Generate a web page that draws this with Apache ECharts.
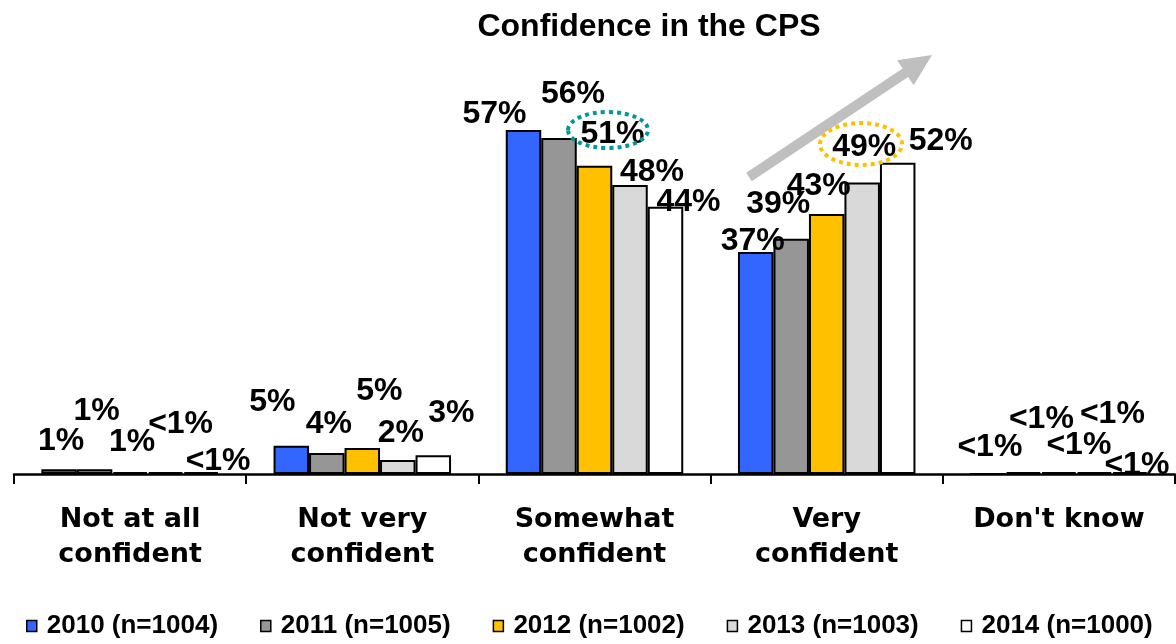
<!DOCTYPE html>
<html>
<head>
<meta charset="utf-8">
<title>Confidence in the CPS</title>
<script src="https://cdn.jsdelivr.net/npm/echarts@6/dist/echarts.min.js"></script>
<style>
    html, body { margin: 0; padding: 0; background: #fff; }
    #chart { width: 1176px; height: 644px; }
</style>
</head>
<body>
<div id="chart"></div>
<script>
// 分类
var categories = ['Not at all\nconfident', 'Not very\nconfident', 'Somewhat\nconfident', 'Very\nconfident', "Don't know"];
var seriesNames = ['2010 (n=1004)', '2011 (n=1005)', '2012 (n=1002)', '2013 (n=1003)', '2014 (n=1000)'];

// 数值 (%)
var values2010 = [0.8, 4.7, 57, 36.8, 0];
var values2011 = [0.8, 3.5, 55.7, 39, 0.3];
var values2012 = [0.3, 4.3, 51.1, 43.1, 0.3];
var values2013 = [0.3, 2.3, 47.9, 48.3, 0.3];
var values2014 = [0.3, 3.1, 44.3, 51.6, 0.3];

// 标签文字
var labels2010 = ['1%', '5%', '57%', '37%', '<1%'];
var labels2011 = ['1%', '4%', '56%', '39%', '<1%'];
var labels2012 = ['1%', '5%', '51%', '43%', '<1%'];
var labels2013 = ['<1%', '2%', '48%', '49%', '<1%'];
var labels2014 = ['<1%', '3%', '44%', '52%', '<1%'];

var allValues = [values2010, values2011, values2012, values2013, values2014];
var allLabels = [labels2010, labels2011, labels2012, labels2013, labels2014];
var colors = ['#3366ff', '#969696', '#ffc000', '#d9d9d9', '#ffffff'];

// 标签偏移（原图标签是手动摆放的）
var labelOffsets = [
    [[2, -28], [-19, -43], [-29, -16], [-3, -11], [2, -26]],
    [[2, -58], [2, -29], [14, -44], [-13, -35], [18, -53]],
    [[2, -30], [17, -57], [18, -32], [-8, -28], [20, -27]],
    [[15, -48], [3, -27], [22, -13], [2, -35], [18, -58]],
    [[17, -11], [18, -42], [23, -5], [43, -22], [7, -7]]
];

var seriesData = [];
for (var i = 0; i < seriesNames.length; i++) {
    var data = [];
    for (var j = 0; j < categories.length; j++) {
        data.push({
            value: allValues[i][j],
            label: {
                formatter: allLabels[i][j],
                offset: labelOffsets[i][j]
            }
        });
    }
    seriesData.push({
        name: seriesNames[i],
        type: 'bar',
        barWidth: 35.5,
        barGap: '0%',
        data: data,
        itemStyle: {
            color: colors[i],
            borderColor: '#000',
            borderWidth: 2
        },
        label: {
            show: true,
            position: 'top',
            distance: 0,
            verticalAlign: 'middle',
            color: '#000',
            fontFamily: 'Liberation Sans, Arial, sans-serif',
            fontWeight: 'bold',
            fontSize: 32
        }
    });
}

// 箭头多边形
function arrowPoints(x1, y1, x2, y2, shaft, head, headLen) {
    var dx = x2 - x1, dy = y2 - y1;
    var len = Math.sqrt(dx * dx + dy * dy);
    var ux = dx / len, uy = dy / len;
    var nx = -uy, ny = ux;
    var bx = x2 - ux * headLen, by = y2 - uy * headLen;
    return [
        [x1 + nx * shaft, y1 + ny * shaft],
        [bx + nx * shaft, by + ny * shaft],
        [bx + nx * head, by + ny * head],
        [x2, y2],
        [bx - nx * head, by - ny * head],
        [bx - nx * shaft, by - ny * shaft],
        [x1 - nx * shaft, y1 - ny * shaft]
    ];
}

var myChart = echarts.init(document.getElementById('chart'));
var option = {
    animation: false,
    title: {
        text: 'Confidence in the CPS',
        left: 644,
        top: 6,
        textAlign: 'center',
        textStyle: {
            color: '#000',
            fontFamily: 'Liberation Sans, Arial, sans-serif',
            fontWeight: 'bold',
            fontSize: 32
        }
    },
    legend: {
        data: seriesNames,
        left: 26,
        top: 613,
        padding: 0,
        itemGap: 42,
        itemWidth: 10,
        itemHeight: 11,
        icon: 'rect',
        itemStyle: {
            borderColor: '#000',
            borderWidth: 1.5
        },
        textStyle: {
            color: '#000',
            fontFamily: 'Liberation Sans, Arial, sans-serif',
            fontWeight: 'bold',
            fontSize: 26,
            padding: [0, 0, 0, 5]
        }
    },
    grid: {
        left: 14,
        right: 1,
        top: 112,
        bottom: 170,
        containLabel: false,
        outerBoundsMode: 'none'
    },
    xAxis: {
        type: 'category',
        data: categories,
        axisLine: {
            lineStyle: { color: '#000', width: 2.5 }
        },
        axisTick: {
            show: true,
            interval: 0,
            length: 10,
            lineStyle: { color: '#000', width: 2 }
        },
        axisLabel: {
            interval: 0,
            margin: 28,
            color: '#000',
            fontFamily: 'DejaVu Sans, sans-serif',
            fontWeight: 'bold',
            fontSize: 27,
            lineHeight: 35
        },
        splitLine: { show: false }
    },
    yAxis: {
        type: 'value',
        min: 0,
        max: 60,
        show: false,
        splitLine: { show: false }
    },
    series: seriesData,
    graphic: [
        {
            // 灰色上升箭头
            type: 'polygon',
            shape: { points: arrowPoints(749, 177, 932, 55, 5, 15, 32) },
            style: { fill: '#bfbfbf' },
            z: 1
        },
        {
            // 51% 圈
            type: 'ellipse',
            shape: { cx: 608, cy: 130, rx: 40, ry: 18 },
            style: { fill: 'none', stroke: '#009999', lineWidth: 4, lineDash: [4, 4] },
            z: 100
        },
        {
            // 49% 圈
            type: 'ellipse',
            shape: { cx: 861, cy: 144, rx: 41, ry: 21 },
            style: { fill: 'none', stroke: '#ffc000', lineWidth: 4, lineDash: [4, 4] },
            z: 100
        }
    ]
};
myChart.setOption(option);
</script>
</body>
</html>
